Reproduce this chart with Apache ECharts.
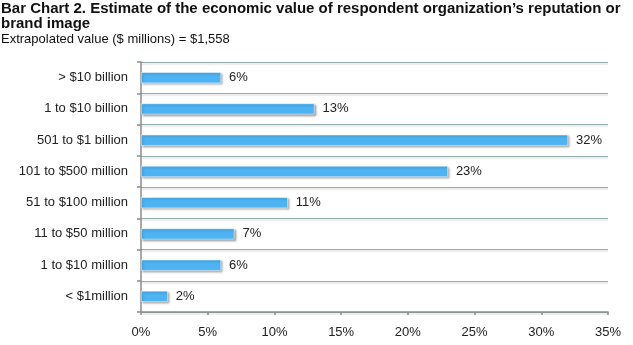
<!DOCTYPE html>
<html>
<head>
<meta charset="utf-8">
<script src="https://cdn.jsdelivr.net/npm/echarts@6/dist/echarts.min.js"></script>
<style>
  html, body { margin: 0; padding: 0; background: #fff; }
  #chart { width: 633px; height: 345px; }
</style>
</head>
<body>
<div id="chart"></div>
<script>
// Value bands, listed top to bottom
const categories = [
  '> $10 billion',
  '1 to $10 billion',
  '501 to $1 billion',
  '101 to $500 million',
  '51 to $100 million',
  '11 to $50 million',
  '1 to $10 million',
  '< $1million'
];
// Share of respondents (%)
const shares = [6, 13, 32, 23, 11, 7, 6, 2];
// Axis range (%)
const axisMin = 0;
const axisMax = 35;
const axisStep = 5;

const chart = echarts.init(document.getElementById('chart'));
const font = 'Liberation Sans, Arial, Helvetica, sans-serif';

chart.setOption({
  animation: false,
  backgroundColor: '#ffffff',
  title: {
    text: 'Bar Chart 2. Estimate of the economic value of respondent organization\u2019s reputation or\nbrand image',
    subtext: 'Extrapolated value ($ millions) = $1,558',
    left: 0,
    top: 0,
    padding: [1, 0, 0, 1],
    itemGap: 1,
    textStyle: { fontFamily: font, fontSize: 15, fontWeight: 'bold', color: '#111', lineHeight: 15 },
    subtextStyle: { fontFamily: font, fontSize: 13, color: '#111', lineHeight: 15 }
  },
  grid: { left: 141, right: 25, top: 62, bottom: 33, containLabel: false },
  xAxis: {
    type: 'value',
    min: axisMin,
    max: axisMax,
    interval: axisStep,
    axisLine: { show: true, lineStyle: { color: '#8c8c8c', width: 1.5 } },
    axisTick: { show: true, length: 3, lineStyle: { color: '#8c8c8c', width: 1.5 } },
    axisLabel: { margin: 14, fontFamily: font, fontSize: 13, color: '#222', formatter: '{value}%' },
    splitLine: { show: false }
  },
  yAxis: {
    type: 'category',
    data: categories,
    inverse: true,
    axisLine: { show: true, lineStyle: { color: '#8c8c8c', width: 1.5 } },
    axisTick: { show: true, length: 4, lineStyle: { color: '#8c8c8c', width: 1.5 } },
    axisLabel: { margin: 13, fontFamily: font, fontSize: 13, color: '#222' },
    splitLine: {
      show: true,
      lineStyle: {
        color: '#93adad',
        width: 1.2,
        shadowColor: 'rgba(0,0,0,0.15)',
        shadowOffsetY: 1.5,
        shadowBlur: 1
      }
    }
  },
  series: [{
    type: 'bar',
    data: shares,
    barWidth: 11,
    itemStyle: {
      color: '#4db3f2',
      borderColor: '#ffffff',
      borderWidth: 0.5,
      shadowColor: 'rgba(0,0,0,0.35)',
      shadowOffsetX: 1.5,
      shadowOffsetY: 1.5,
      shadowBlur: 2
    },
    label: {
      show: true,
      position: 'right',
      distance: 8,
      fontFamily: font,
      fontSize: 13,
      color: '#222',
      formatter: '{c}%'
    }
  }]
});
</script>
</body>
</html>
